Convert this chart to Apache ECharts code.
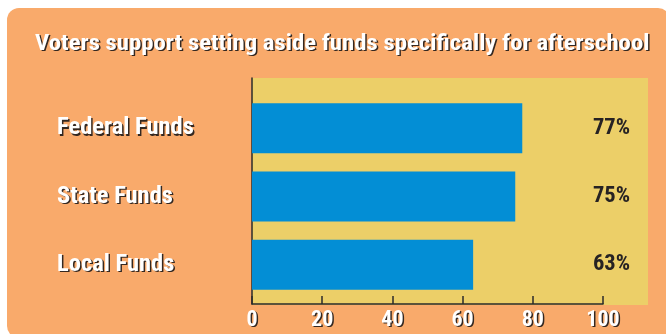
<!DOCTYPE html>
<html>
<head>
<meta charset="utf-8">
<script src="https://cdn.jsdelivr.net/npm/echarts@6/dist/echarts.min.js"></script>
<style>
  html, body { margin: 0; padding: 0; background: #ffffff; }
  #chart { width: 666px; height: 334px; }
</style>
</head>
<body>
<div id="chart"></div>
<script>
// Survey results: share of voters supporting dedicated afterschool funding
const titleText = 'Voters support setting aside funds specifically for afterschool';
const categories = ['Federal Funds', 'State Funds', 'Local Funds'];
const supportPct = [77, 75, 63];
const tickValues = [0, 20, 40, 60, 80, 100];

const FONT = '"Roboto Condensed", "Liberation Sans Narrow", "Open Sans Condensed", Roboto, sans-serif';
const WEIGHT = 'bold';
const ORANGE = '#F9AA6B';
const YELLOW = '#ECCF68';
const BLUE = '#038ED5';
const INK = '#262223';
const SHADOW = 'rgba(30,25,25,0.9)';

const whiteText = {
  color: '#ffffff',
  fontFamily: FONT,
  fontWeight: WEIGHT,
  textShadowColor: SHADOW,
  textShadowOffsetX: 1.5,
  textShadowOffsetY: 1.5,
  textShadowBlur: 0.5
};

const chart = echarts.init(document.getElementById('chart'), null, { renderer: 'canvas' });

chart.setOption({
  backgroundColor: '#ffffff',
  animation: false,
  graphic: [
    {
      // rounded orange panel behind everything
      type: 'rect',
      z: -10,
      shape: { x: 7, y: 8, width: 663, height: 330, r: 12 },
      style: { fill: ORANGE }
    },
    {
      // yellow plot backdrop, running a little past the 100 mark
      type: 'rect',
      z: -9,
      shape: { x: 252, y: 78, width: 396, height: 227 },
      style: { fill: YELLOW }
    },
    {
      // headline, slightly widened condensed type
      type: 'text',
      x: 35,
      y: 44,
      scaleX: 1.1,
      z: 10,
      style: {
        text: titleText,
        fill: '#ffffff',
        fontFamily: FONT,
        fontWeight: WEIGHT,
        fontSize: 22.5,
        verticalAlign: 'middle',
        align: 'left',
        textShadowColor: SHADOW,
        textShadowOffsetX: 1.5,
        textShadowOffsetY: 1.5,
        textShadowBlur: 0.5
      }
    }
  ],
  grid: [
    // frame grid: axis lines, ticks and tick labels
    { left: 252, right: 63, top: 78, bottom: 30 },
    // data grid: category bands
    { left: 252, right: 63, top: 94, bottom: 35 }
  ],
  xAxis: [
    {
      gridIndex: 0,
      type: 'value',
      min: 0,
      max: 100,
      interval: 20,
      splitLine: { show: false },
      axisLine: { show: true, lineStyle: { color: '#2b2b2b', width: 1.5 } },
      axisTick: { show: true, inside: true, length: 8, lineStyle: { color: '#2b2b2b', width: 1.5 } },
      axisLabel: Object.assign({
        fontSize: 22,
        margin: 5,
        customValues: tickValues
      }, whiteText)
    },
    {
      gridIndex: 1,
      type: 'value',
      min: 0,
      max: 100,
      show: false
    }
  ],
  yAxis: [
    {
      gridIndex: 0,
      type: 'value',
      min: 0,
      max: 1,
      axisLine: { show: true, onZero: false, lineStyle: { color: '#2b2b2b', width: 1.5 } },
      axisTick: { show: false },
      axisLabel: { show: false },
      splitLine: { show: false }
    },
    {
      gridIndex: 1,
      type: 'category',
      inverse: true,
      data: categories,
      axisLine: { show: false },
      axisTick: { show: false },
      axisLabel: Object.assign({
        fontSize: 24.5,
        align: 'left',
        margin: 195
      }, whiteText)
    }
  ],
  series: [
    {
      type: 'bar',
      xAxisIndex: 1,
      yAxisIndex: 1,
      data: supportPct,
      barWidth: 50,
      itemStyle: { color: BLUE },
      label: {
        show: true,
        position: [378, '50%'],
        align: 'right',
        verticalAlign: 'middle',
        formatter: '{c}%',
        color: INK,
        fontFamily: FONT,
        fontWeight: WEIGHT,
        fontSize: 22.5
      }
    }
  ]
});
</script>
</body>
</html>
